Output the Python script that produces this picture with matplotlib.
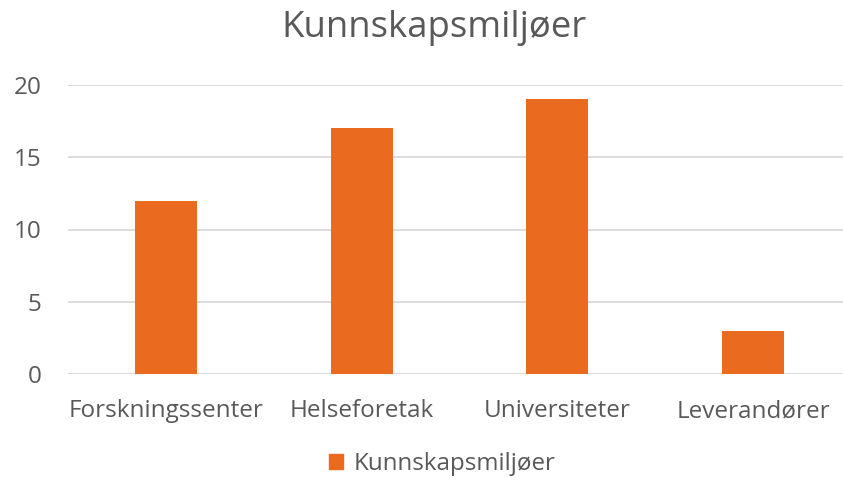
import matplotlib.pyplot as plt
from matplotlib.patches import Patch

categories = ['Forskningssenter', 'Helseforetak', 'Universiteter', 'Leverandører']
values = [12, 17, 19, 3]
series_name = 'Kunnskapsmiljøer'
yticks = [0, 5, 10, 15, 20]

bar_color = '#EA6A1F'
text_color = '#595959'
grid_color = '#D9D9D9'

plt.rcParams['font.family'] = ['Open Sans', 'DejaVu Sans']

fig = plt.figure(figsize=(8.43, 4.8), dpi=100)
ax = fig.add_axes([68 / 843, 106 / 480, (851 - 68) / 843, (374 - 85) / 480])

x = range(len(categories))
ax.bar(x, values, width=0.317, color=bar_color, zorder=3)

ax.set_xlim(-0.5, len(categories) - 0.5)
ax.set_ylim(0, 20)
ax.set_yticks(yticks)
ax.set_xticks(list(x))
ax.set_xticklabels(categories)
ax.grid(axis='y', color=grid_color, linewidth=1.3, zorder=0)
for s in ax.spines.values():
    s.set_visible(False)
ax.tick_params(length=0, labelsize=17.5, colors=text_color)
ax.tick_params(axis='y', pad=19)
ax.tick_params(axis='x', pad=18)

fig.text(434 / 843, 1 - 28 / 480, series_name, ha='center', va='center',
         fontsize=26.3, color=text_color)

handles = [Patch(color=bar_color, label=series_name)]
fig.legend(handles=handles, loc='center', bbox_to_anchor=(442 / 843, 1 - 464 / 480),
           frameon=False, fontsize=17.4, labelcolor=text_color,
           handlelength=0.6, handleheight=0.6, handletextpad=0.4)

fig.savefig('out.png', dpi=100)
